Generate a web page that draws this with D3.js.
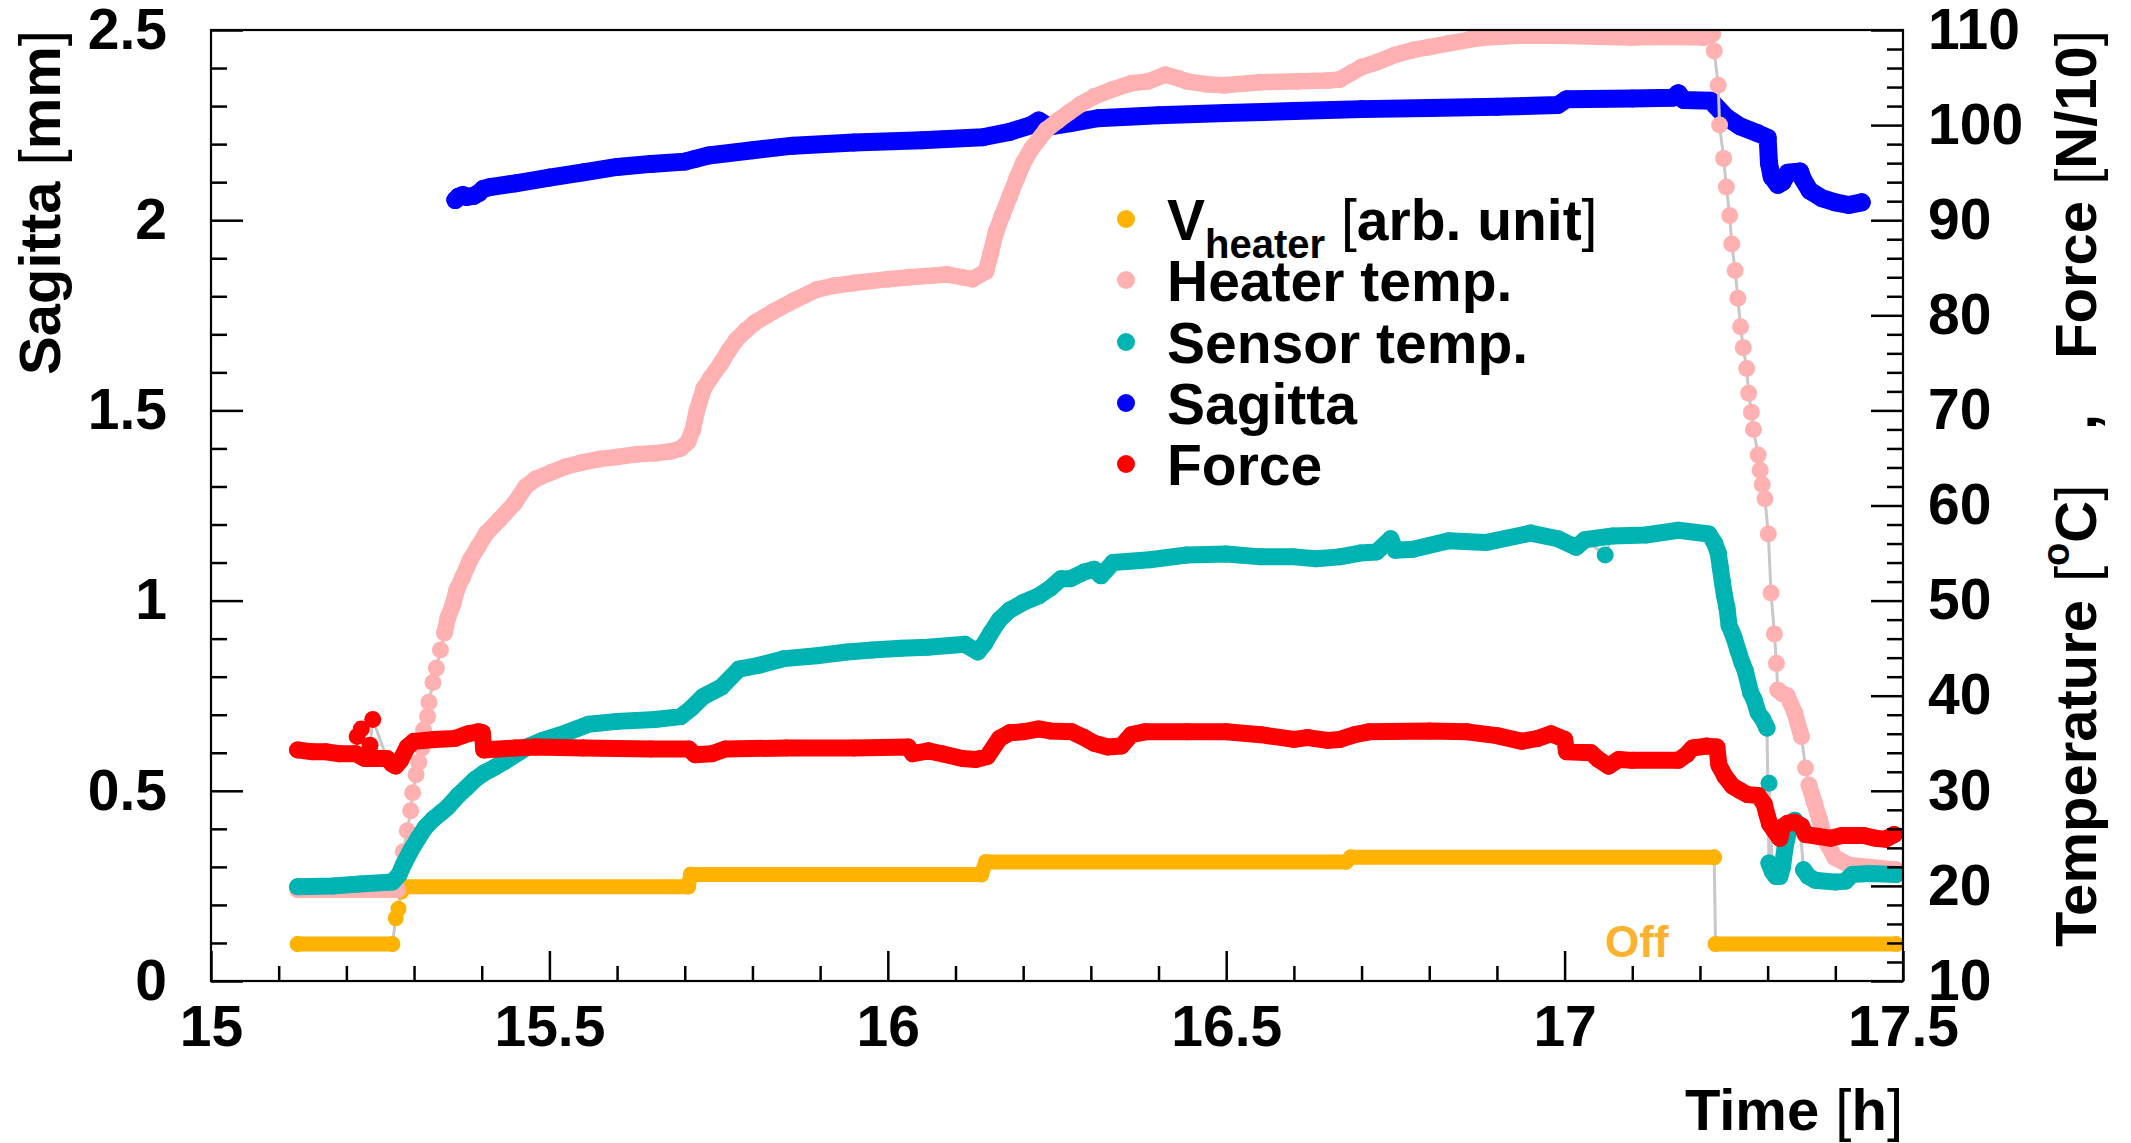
<!DOCTYPE html>
<html>
<head>
<meta charset="utf-8">
<script src="https://cdn.jsdelivr.net/npm/d3@7"></script>
<style>
  html, body { margin: 0; padding: 0; background: #fff; }
  svg text { font-family: "Liberation Sans", Arial, Helvetica, sans-serif; font-weight: bold; fill: #000; }
</style>
</head>
<body>
<svg id="chart" width="2131" height="1143"></svg>
<script>
// ---------------- DATA ----------------
const timeTicks = [15, 15.5, 16, 16.5, 17, 17.5];
const timeTickLabels = ["15", "15.5", "16", "16.5", "17", "17.5"];
const sagittaTicks = [0, 0.5, 1, 1.5, 2, 2.5];
const sagittaTickLabels = ["0", "0.5", "1", "1.5", "2", "2.5"];
const rightTicks = [10, 20, 30, 40, 50, 60, 70, 80, 90, 100, 110];
const rightTickLabels = ["10", "20", "30", "40", "50", "60", "70", "80", "90", "100", "110"];

const legendLabels = ["V_heater [arb. unit]", "Heater temp.", "Sensor temp.", "Sagitta", "Force"];

// Sagitta [mm] (left axis)
const sagitta = [
 [15.361,2.053],[15.366,2.062],[15.372,2.066],[15.378,2.061],[15.388,2.064],[15.396,2.072],[15.402,2.082],[15.412,2.087],
 [15.45,2.097],[15.50,2.112],[15.55,2.126],[15.60,2.140],[15.65,2.148],[15.70,2.154],[15.715,2.161],[15.735,2.170],
 [15.80,2.184],[15.86,2.196],[15.95,2.204],[16.05,2.210],[16.14,2.218],[16.18,2.232],[16.212,2.250],[16.223,2.262],
 [16.238,2.246],[16.27,2.255],[16.31,2.268],[16.40,2.276],[16.50,2.282],[16.60,2.287],[16.70,2.292],[16.80,2.295],
 [16.90,2.298],[16.99,2.303],[17.003,2.318],[17.10,2.320],[17.16,2.322],[17.168,2.334],[17.176,2.316],[17.216,2.314],
 [17.238,2.272],[17.259,2.247],[17.285,2.229],[17.300,2.217],[17.302,2.150],[17.306,2.114],[17.315,2.093],[17.322,2.100],
 [17.330,2.125],[17.348,2.128],[17.352,2.108],[17.362,2.078],[17.38,2.058],[17.40,2.047],[17.42,2.040],[17.439,2.047]
];

// V_heater [arb. unit] (left axis)
const vHeaterLine = [
 [15.128,0.097],[15.268,0.097],null,[15.284,0.248],[15.705,0.248],[15.709,0.280],[16.138,0.280],[16.145,0.313],
 [16.677,0.313],[16.684,0.325],[17.221,0.325],null,[17.223,0.097],[17.490,0.097]
];
const vHeaterDots = [[15.273,0.165],[15.277,0.190],[15.281,0.235]];

// Heater temperature [°C] (right axis)
const heaterTempLine = [
 [15.128,19.6],[15.276,19.6],null,
 [15.345,46.6],[15.350,48.2],[15.358,49.7],[15.363,51.1],[15.372,52.5],[15.383,54.3],[15.394,55.6],[15.407,57.1],
 [15.426,58.5],[15.448,60.2],[15.465,62.0],[15.480,62.8],[15.503,63.5],[15.525,64.1],[15.547,64.5],[15.575,64.9],
 [15.600,65.1],[15.630,65.4],[15.656,65.5],[15.680,65.7],[15.694,66.0],[15.705,66.7],[15.712,68.0],[15.718,70.0],
 [15.728,72.3],[15.738,73.4],[15.754,75.0],[15.765,76.3],[15.776,77.4],[15.790,78.4],[15.803,79.2],[15.831,80.4],
 [15.860,81.5],[15.895,82.7],[15.920,83.1],[15.950,83.4],[16.000,83.8],[16.032,84.0],[16.087,84.3],[16.110,84.0],
 [16.125,83.8],[16.145,84.6],[16.152,86.5],[16.160,88.8],[16.169,90.5],[16.180,92.5],[16.191,94.5],[16.200,96.0],
 [16.212,97.5],[16.234,99.5],[16.250,100.4],[16.267,101.3],[16.285,102.2],[16.305,103.0],[16.330,103.7],[16.360,104.4],
 [16.385,104.6],[16.410,105.3],[16.430,104.9],[16.442,104.6],[16.470,104.3],[16.497,104.2],[16.550,104.5],[16.606,104.6],
 [16.650,104.7],[16.668,104.8],[16.685,105.5],[16.700,106.1],[16.722,106.6],[16.750,107.4],[16.776,107.9],[16.800,108.2],
 [16.829,108.6],[16.860,109.0],[16.883,109.2],[16.930,109.4],[16.990,109.4],[17.050,109.3],[17.098,109.2],[17.150,109.3],
 [17.205,109.2],[17.219,109.6],null,
 [17.315,40.6],[17.322,40.2],[17.329,40.0],[17.340,38.2],[17.350,35.7],null,
 [17.361,30.6],[17.369,28.8],[17.377,26.9],[17.385,24.8],[17.399,23.0],[17.420,22.2],[17.490,21.7]
];
const heaterTempDots = [
 [15.281,21.7],[15.284,23.6],[15.290,25.8],[15.295,27.9],[15.298,29.8],[15.303,31.7],[15.307,33.0],[15.312,34.5],
 [15.314,36.4],[15.320,37.8],[15.322,39.3],[15.328,41.4],[15.333,42.9],[15.339,44.8],
 [17.221,107.8],[17.227,104.2],[17.229,100.0],[17.235,96.5],[17.239,93.5],[17.244,90.5],[17.247,87.5],[17.252,84.7],
 [17.256,81.8],[17.260,78.8],[17.264,76.6],[17.269,74.4],[17.272,71.8],[17.276,69.8],[17.279,68.0],[17.286,65.3],
 [17.289,63.7],[17.292,62.2],[17.296,60.7],[17.301,57.0],[17.305,50.8],[17.310,46.5],[17.313,43.4],[17.356,32.4]
];

// Sensor temperature [°C] (right axis)
const sensorTempLine = [
 [15.128,19.9],[15.180,20.0],[15.220,20.2],[15.268,20.4],[15.278,21.2],[15.284,22.2],[15.295,23.7],[15.306,25.0],
 [15.317,26.2],[15.328,27.0],[15.340,27.7],[15.350,28.3],[15.365,29.5],[15.377,30.3],[15.390,31.2],[15.404,31.9],
 [15.420,32.5],[15.432,33.0],[15.454,34.0],[15.470,34.7],[15.490,35.3],[15.525,36.1],[15.558,37.0],[15.600,37.3],
 [15.656,37.5],[15.694,37.8],[15.710,38.7],[15.727,39.9],[15.754,40.9],[15.780,42.8],[15.810,43.2],[15.847,43.9],
 [15.895,44.2],[15.940,44.6],[15.977,44.8],[16.020,45.0],[16.059,45.1],[16.114,45.4],[16.133,44.6],[16.143,45.5],
 [16.152,46.6],[16.165,48.0],[16.180,49.0],[16.200,49.8],[16.223,50.5],[16.240,51.3],[16.256,52.3],[16.270,52.3],
 [16.290,53.0],[16.305,53.3],[16.315,52.6],[16.333,54.0],[16.387,54.3],[16.442,54.8],[16.500,54.9],[16.551,54.6],
 [16.600,54.6],[16.633,54.4],[16.668,54.6],[16.698,55.0],[16.722,55.1],[16.743,56.5],[16.750,55.3],[16.776,55.4],
 [16.829,56.3],[16.883,56.1],[16.950,57.1],[16.990,56.5],[17.017,55.6],[17.030,56.4],[17.071,56.8],[17.120,56.9],
 [17.168,57.4],[17.213,57.0],[17.222,56.0],[17.227,55.0],[17.230,53.5],[17.233,52.0],[17.236,50.6],[17.240,49.2],
 [17.243,47.4],[17.250,46.2],[17.256,44.8],[17.262,43.5],[17.267,42.6],[17.275,40.3],[17.280,39.6],[17.286,38.2],
 [17.293,37.5],[17.299,36.6],null,
 [17.302,22.4],[17.307,21.5],[17.312,21.0],[17.318,21.0],[17.322,22.0],[17.326,24.2],[17.332,26.0],[17.340,26.9],
 [17.348,26.2],null,
 [17.353,21.7],[17.360,21.0],[17.370,20.6],[17.400,20.4],[17.415,20.5],[17.425,21.2],[17.450,21.3],[17.490,21.2]
];
const sensorTempDots = [[17.060,54.8],[17.302,30.8]];

// Force [N/10] (right axis)
const forceLine = [
 [15.128,34.3],[15.150,34.1],[15.170,34.1],[15.190,33.9],[15.214,33.9],[15.227,33.4],[15.260,33.4],[15.268,32.8],
 [15.273,32.6],[15.280,33.2],[15.290,34.6],[15.300,35.2],[15.330,35.4],[15.360,35.5],[15.380,36.0],[15.395,36.2],
 [15.401,36.1],[15.403,34.3],[15.450,34.5],[15.480,34.6],[15.550,34.5],[15.650,34.4],[15.706,34.4],[15.715,33.8],
 [15.740,33.9],[15.760,34.4],[15.850,34.5],[15.950,34.5],[16.030,34.6],[16.037,33.9],[16.060,34.2],[16.080,33.9],
 [16.110,33.4],[16.130,33.3],[16.147,33.6],[16.165,35.5],[16.180,36.1],[16.200,36.2],[16.223,36.5],[16.240,36.3],
 [16.272,36.2],[16.290,35.6],[16.305,35.0],[16.325,34.6],[16.345,34.7],[16.360,35.9],[16.380,36.2],[16.442,36.2],
 [16.500,36.2],[16.551,35.9],[16.600,35.4],[16.620,35.6],[16.650,35.3],[16.668,35.4],[16.690,35.9],[16.711,36.2],
 [16.800,36.3],[16.856,36.2],[16.900,35.8],[16.937,35.2],[16.960,35.5],[16.980,36.0],[17.000,35.4],[17.003,34.1],
 [17.039,34.0],[17.050,33.3],[17.065,32.6],[17.080,33.3],[17.100,33.2],[17.168,33.2],[17.180,33.8],[17.189,34.5],
 [17.210,34.7],[17.225,34.6],[17.228,32.7],[17.237,31.5],[17.248,30.5],[17.260,30.0],[17.270,29.6],[17.286,29.5],
 [17.295,28.6],[17.299,27.5],[17.303,26.5],[17.310,25.8],[17.318,25.0],[17.322,26.2],[17.330,26.6],[17.340,26.7],
 [17.350,26.3],[17.356,25.4],[17.375,25.2],[17.393,25.0],[17.410,25.3],[17.442,25.3],[17.460,25.0],[17.474,24.9],
 [17.487,25.4]
];
const forceDots = [[15.216,35.7],[15.222,36.5],[15.235,34.8],[15.239,37.5]];

// ---------------- CHART ----------------
const svg = d3.select("#chart");
const W = 2131, H = 1143;
const L = 211, R = 1903, T = 30, B = 981;
const FS = 57;

svg.append("rect").attr("width", W).attr("height", H).attr("fill", "#fff");

const x = d3.scaleLinear().domain([15, 17.5]).range([L, R]);
const yL = d3.scaleLinear().domain([0, 2.5]).range([B, T]);
const yR = d3.scaleLinear().domain([10, 110]).range([B, T]);

svg.append("defs").append("clipPath").attr("id", "plotclip")
  .append("rect").attr("x", L).attr("y", T).attr("width", R - L).attr("height", B - T);

const plot = svg.append("g").attr("clip-path", "url(#plotclip)");

const colors = {
  vheater: "#ffb300",
  heater: "#ffb1b1",
  sensor: "#00b3b3",
  sagitta: "#0000ff",
  force: "#ff0000"
};

function drawSeries(lineData, dotData, yScale, color, width, r) {
  const g = plot.append("g");
  const pts = lineData.filter(d => d).concat(dotData).sort((a, b) => a[0] - b[0]);
  const grayLine = d3.line().x(d => x(d[0])).y(d => yScale(d[1]));
  g.append("path").attr("d", grayLine(pts))
    .attr("fill", "none").attr("stroke", "#c8c8c8").attr("stroke-width", 3);
  const thick = d3.line().defined(d => d != null).x(d => x(d[0])).y(d => yScale(d[1]));
  g.append("path").attr("d", thick(lineData))
    .attr("fill", "none").attr("stroke", color).attr("stroke-width", width)
    .attr("stroke-linecap", "round").attr("stroke-linejoin", "round");
  g.selectAll("circle").data(pts).join("circle")
    .attr("cx", d => x(d[0])).attr("cy", d => yScale(d[1])).attr("r", r)
    .attr("fill", color);
}

drawSeries(sagitta, [], yL, colors.sagitta, 18, 9);
drawSeries(vHeaterLine, vHeaterDots, yL, colors.vheater, 15, 8);
drawSeries(heaterTempLine, heaterTempDots, yR, colors.heater, 16.5, 8.5);
drawSeries(sensorTempLine, sensorTempDots, yR, colors.sensor, 17, 8.5);
drawSeries(forceLine, forceDots, yR, colors.force, 17, 8.5);

// ---------- Axes ----------
function styleAxis(g) {
  g.select(".domain").remove();
  g.selectAll(".tick line").attr("stroke", "#000").attr("stroke-width", 2.5);
  g.selectAll(".tick text").attr("font-size", FS).attr("font-family", "Liberation Sans, Arial, sans-serif")
    .attr("font-weight", "bold").attr("fill", "#000");
}
function range(a, b, step) { const out = []; for (let v = a; v <= b + 1e-9; v += step) out.push(+v.toFixed(4)); return out; }

// Left axis
svg.append("g").attr("transform", `translate(${L},0)`)
  .call(d3.axisLeft(yL).tickValues(range(0, 2.5, 0.1).filter(v => Math.abs(v * 2 - Math.round(v * 2)) > 1e-6))
    .tickSize(-16).tickFormat(""))
  .call(styleAxis);
svg.append("g").attr("transform", `translate(${L},0)`)
  .call(d3.axisLeft(yL).tickValues(sagittaTicks).tickSize(-32).tickPadding(44)
    .tickFormat((d, i) => sagittaTickLabels[i]))
  .call(styleAxis);

// Bottom axis
svg.append("g").attr("transform", `translate(0,${B})`)
  .call(d3.axisBottom(x).tickValues(range(15, 17.5, 0.1).filter(v => Math.abs(v * 2 - Math.round(v * 2)) > 1e-6))
    .tickSize(-15).tickFormat(""))
  .call(styleAxis);
svg.append("g").attr("transform", `translate(0,${B})`)
  .call(d3.axisBottom(x).tickValues(timeTicks).tickSize(-30).tickPadding(25)
    .tickFormat((d, i) => timeTickLabels[i]))
  .call(styleAxis);

// Right axis
svg.append("g").attr("transform", `translate(${R},0)`)
  .call(d3.axisRight(yR).tickValues(range(10, 110, 2).filter(v => v % 10 !== 0))
    .tickSize(-16).tickFormat(""))
  .call(styleAxis);
svg.append("g").attr("transform", `translate(${R},0)`)
  .call(d3.axisRight(yR).tickValues(rightTicks).tickSize(-32).tickPadding(25)
    .tickFormat((d, i) => rightTickLabels[i]))
  .call(styleAxis);

// Frame
svg.append("rect").attr("x", L).attr("y", T).attr("width", R - L).attr("height", B - T)
  .attr("fill", "none").attr("stroke", "#000").attr("stroke-width", 2.2);

// ---------- Axis titles ----------
const lt = svg.append("text").attr("transform", `translate(60,${T}) rotate(-90)`)
  .attr("text-anchor", "end").attr("font-size", 58);
lt.append("tspan").text("Sagitta ");
lt.append("tspan").attr("font-weight", "normal").text("[");
lt.append("tspan").text("mm");
lt.append("tspan").attr("font-weight", "normal").text("]");

const xt = svg.append("text").attr("x", R).attr("y", 1130).attr("text-anchor", "end").attr("font-size", 58);
xt.append("tspan").text("Time ");
xt.append("tspan").attr("font-weight", "normal").text("[");
xt.append("tspan").text("h");
xt.append("tspan").attr("font-weight", "normal").text("]");

// Right title pieces
svg.append("text").attr("transform", "translate(2096,947) rotate(-90)")
  .attr("text-anchor", "start").attr("font-size", 58).text("Temperature");
const tc = svg.append("text").attr("transform", "translate(2096,582) rotate(-90)")
  .attr("text-anchor", "start").attr("font-size", 58);
tc.append("tspan").attr("font-weight", "normal").text("[");
tc.append("tspan").attr("font-size", 38).attr("dy", -27).text("o");
tc.append("tspan").attr("dy", 27).text("C");
tc.append("tspan").attr("font-weight", "normal").text("]");
svg.append("text").attr("transform", "translate(2096,422) rotate(-90)")
  .attr("text-anchor", "middle").attr("font-size", 58).text(",");
const fc = svg.append("text").attr("transform", `translate(2096,${T}) rotate(-90)`)
  .attr("text-anchor", "end").attr("font-size", 58);
fc.append("tspan").text("Force ");
fc.append("tspan").attr("font-weight", "normal").text("[");
fc.append("tspan").text("N/10");
fc.append("tspan").attr("font-weight", "normal").text("]");

// ---------- Legend ----------
const legendColors = [colors.vheater, colors.heater, colors.sensor, colors.sagitta, colors.force];
const legendY = [219, 280, 342, 403, 464];
const lg = svg.append("g");
legendColors.forEach((c, i) => {
  lg.append("circle").attr("cx", 1126).attr("cy", legendY[i]).attr("r", 9).attr("fill", c);
});
const l0 = lg.append("text").attr("x", 1167).attr("y", legendY[0] + 21).attr("font-size", FS);
l0.append("tspan").text("V");
l0.append("tspan").attr("font-size", 40).attr("dy", 18).text("heater");
l0.append("tspan").attr("dy", -18).attr("font-weight", "normal").text(" [");
l0.append("tspan").text("arb. unit");
l0.append("tspan").attr("font-weight", "normal").text("]");
for (let i = 1; i < legendLabels.length; i++) {
  lg.append("text").attr("x", 1167).attr("y", legendY[i] + 21).attr("font-size", FS).text(legendLabels[i]);
}

// "Off" annotation
svg.append("text").attr("x", 1605).attr("y", 957).attr("font-size", 44)
  .style("fill", "#fbb32f").text("Off");
</script>
</body>
</html>
